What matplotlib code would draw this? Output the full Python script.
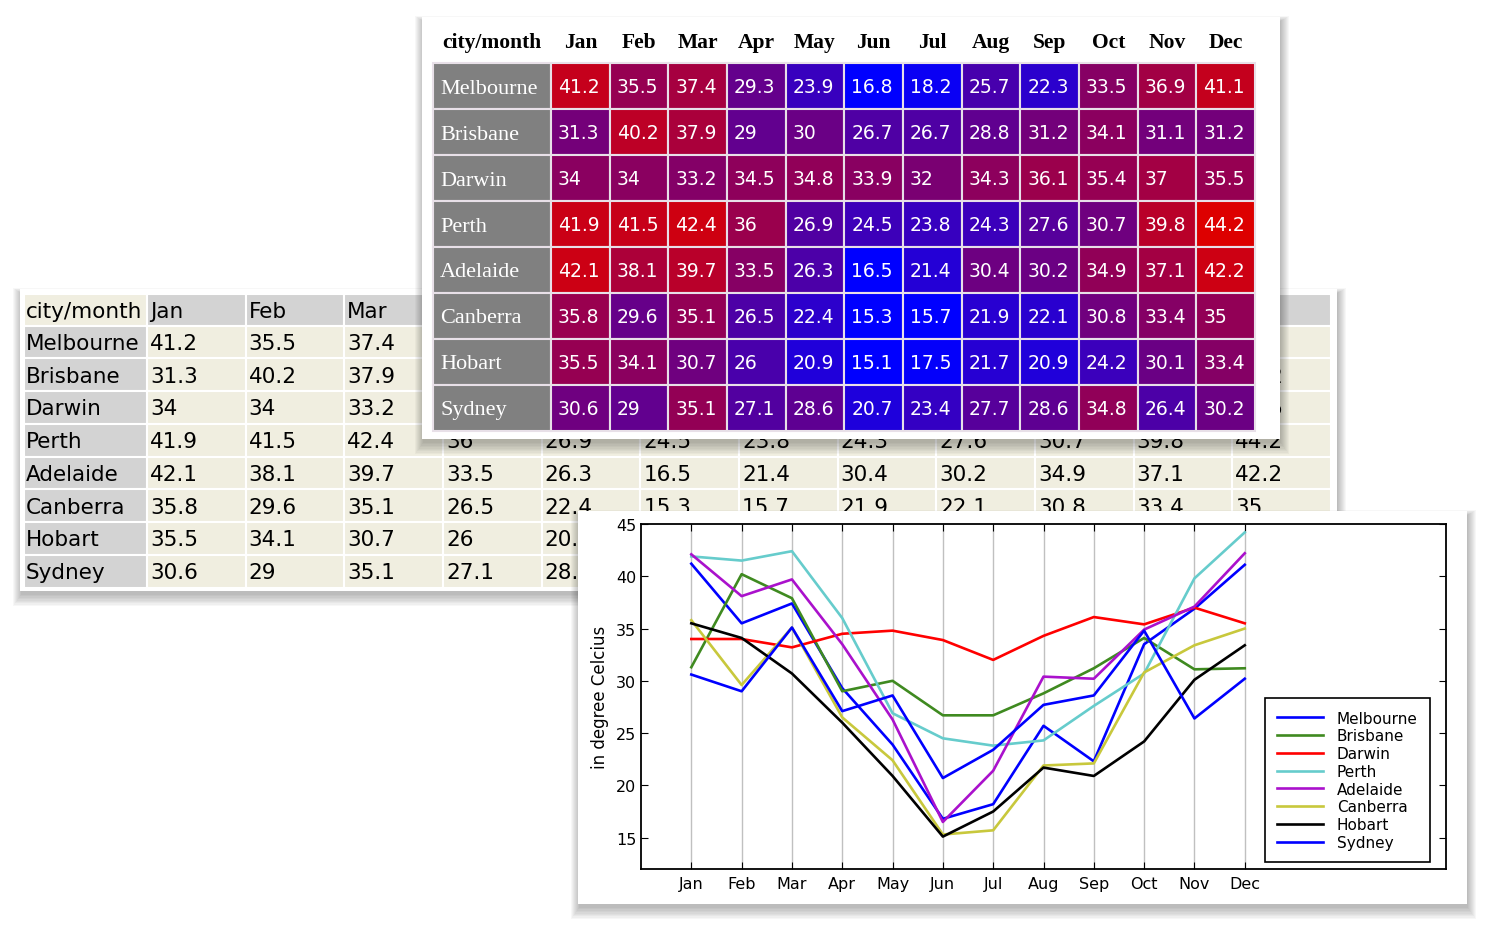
import numpy as np
import matplotlib.pyplot as plt
from matplotlib.patches import Rectangle

# datos
months = ['Jan', 'Feb', 'Mar', 'Apr', 'May', 'Jun', 'Jul', 'Aug', 'Sep', 'Oct', 'Nov', 'Dec']
cities = ['Melbourne', 'Brisbane', 'Darwin', 'Perth', 'Adelaide', 'Canberra', 'Hobart', 'Sydney']

melbourne = [41.2, 35.5, 37.4, 29.3, 23.9, 16.8, 18.2, 25.7, 22.3, 33.5, 36.9, 41.1]
brisbane = [31.3, 40.2, 37.9, 29, 30, 26.7, 26.7, 28.8, 31.2, 34.1, 31.1, 31.2]
darwin = [34, 34, 33.2, 34.5, 34.8, 33.9, 32, 34.3, 36.1, 35.4, 37, 35.5]
perth = [41.9, 41.5, 42.4, 36, 26.9, 24.5, 23.8, 24.3, 27.6, 30.7, 39.8, 44.2]
adelaide = [42.1, 38.1, 39.7, 33.5, 26.3, 16.5, 21.4, 30.4, 30.2, 34.9, 37.1, 42.2]
canberra = [35.8, 29.6, 35.1, 26.5, 22.4, 15.3, 15.7, 21.9, 22.1, 30.8, 33.4, 35]
hobart = [35.5, 34.1, 30.7, 26, 20.9, 15.1, 17.5, 21.7, 20.9, 24.2, 30.1, 33.4]
sydney = [30.6, 29, 35.1, 27.1, 28.6, 20.7, 23.4, 27.7, 28.6, 34.8, 26.4, 30.2]

temps = [melbourne, brisbane, darwin, perth, adelaide, canberra, hobart, sydney]

line_colors = ['#0000ff', '#3f8a20', '#ff0000', '#66cccc', '#aa11cc', '#c8c83c', '#000000', '#0000ff']


def fmt(v):
    return '%g' % v


# azul -> rojo segun temperatura
def heat(v):
    t = np.clip((v - 17.0) / (44.2 - 17.0), 0, 1)
    return (0.867 * t, 0, 1 - t)


def shadow(ax, x0, y0, w, h, z):
    for k in range(9):
        ax.add_patch(Rectangle((x0 + 1 - k, y0 + 4 - k * 0.6), w + 2 * k, h + 2 * k,
                               color='black', alpha=0.03, lw=0, zorder=z))


fig = plt.figure(figsize=(15, 9.37), dpi=100)
bg = fig.add_axes([0, 0, 1, 1])
bg.set_xlim(0, 1500)
bg.set_ylim(937, 0)
bg.axis('off')

# ---- tabla del medio (beige) ----
mx0, my0 = 24, 295
m_label_w, m_col_w = 123, 98.67
m_head_h, m_row_h = 31.5, 32.75
shadow(bg, 20, 290, 1317, 302, 1)
bg.add_patch(Rectangle((20, 290), 1317, 302, color='white', lw=0, zorder=1.5))

bg.add_patch(Rectangle((mx0, my0), m_label_w, m_head_h, facecolor='#f0eee0', edgecolor='white', lw=1.5, zorder=2))
bg.text(mx0 + 2, my0 + m_head_h / 2 + 1, 'city/month', fontsize=15.5, va='center', ha='left', zorder=3)
for j, m in enumerate(months):
    x = mx0 + m_label_w + j * m_col_w
    bg.add_patch(Rectangle((x, my0), m_col_w, m_head_h, facecolor='#d3d3d3', edgecolor='white', lw=1.5, zorder=2))
    bg.text(x + 3, my0 + m_head_h / 2 + 1, m, fontsize=15.5, va='center', ha='left', zorder=3)

for i, c in enumerate(cities):
    y = my0 + m_head_h + i * m_row_h
    bg.add_patch(Rectangle((mx0, y), m_label_w, m_row_h, facecolor='#d3d3d3', edgecolor='white', lw=1.5, zorder=2))
    bg.text(mx0 + 2, y + m_row_h / 2 + 1, c, fontsize=15.5, va='center', ha='left', zorder=3)
    for j in range(12):
        x = mx0 + m_label_w + j * m_col_w
        bg.add_patch(Rectangle((x, y), m_col_w, m_row_h, facecolor='#f0eee0', edgecolor='white', lw=1.5, zorder=2))
        bg.text(x + 3, y + m_row_h / 2 + 1, fmt(temps[i][j]), fontsize=15.5, va='center', ha='left', zorder=3)

# ---- tabla de arriba (mapa de calor) ----
tx0, ty0 = 433, 63.5
t_label_w, t_col_w, t_row_h = 118, 58.67, 46
shadow(bg, 422, 18, 858, 422, 4)
bg.add_patch(Rectangle((422, 18), 858, 422, color='white', lw=0, zorder=4.5))

bg.text(tx0 + t_label_w / 2, 43, 'city/month', family='Liberation Serif', weight='bold',
        fontsize=15.5, ha='center', va='center', zorder=6)
for j, m in enumerate(months):
    x = tx0 + t_label_w + j * t_col_w
    bg.text(x + t_col_w / 2, 43, m, family='Liberation Serif', weight='bold',
            fontsize=15.5, ha='center', va='center', zorder=6)

for i, c in enumerate(cities):
    y = ty0 + i * t_row_h
    bg.add_patch(Rectangle((tx0, y), t_label_w, t_row_h, facecolor='#808080', edgecolor='#e8e0e8', lw=1.5, zorder=5))
    bg.text(tx0 + 7, y + t_row_h / 2 + 2.5, c, family='Liberation Serif', fontsize=16,
            color='white', ha='left', va='center', zorder=6)
    for j in range(12):
        x = tx0 + t_label_w + j * t_col_w
        v = temps[i][j]
        bg.add_patch(Rectangle((x, y), t_col_w, t_row_h, facecolor=heat(v), edgecolor='#e8e0e8', lw=1.5, zorder=5))
        bg.text(x + 7, y + t_row_h / 2 + 1, fmt(v), fontsize=13.5, color='white',
                ha='left', va='center', zorder=6)

# ---- panel del grafico ----
shadow(bg, 578, 512, 889, 393, 7)
bg.add_patch(Rectangle((578, 512), 889, 393, color='white', lw=0, zorder=7.5))

ax = fig.add_axes([641 / 1500, 67 / 937, 805 / 1500, 345 / 937])
x = np.arange(1, 13)
for i, c in enumerate(cities):
    ax.plot(x, temps[i], color=line_colors[i], lw=1.9, label=c)

ax.set_xlim(0, 16)
ax.set_ylim(12, 45)
ax.set_xticks(x)
ax.set_xticklabels(months)
ax.set_yticks(range(15, 46, 5))
ax.xaxis.grid(True, color='#c0c0c0', lw=1)
ax.tick_params(direction='in', right=True, top=True, labelsize=11.5, length=5)
ax.tick_params(axis='x', pad=5)
for s in ax.spines.values():
    s.set_linewidth(1.3)
ax.set_ylabel('in degree Celcius', fontsize=12)
ax.yaxis.set_label_coords(-0.04, 0.5)

leg = ax.legend(loc='lower right', bbox_to_anchor=(0.98, 0.02), borderaxespad=0,
                fontsize=11, labelspacing=0.18, handlelength=3.0, handletextpad=0.9,
                fancybox=False, framealpha=1, edgecolor='black', borderpad=0.8)
leg.get_frame().set_linewidth(1.2)

fig.savefig('out.png', dpi=100)
